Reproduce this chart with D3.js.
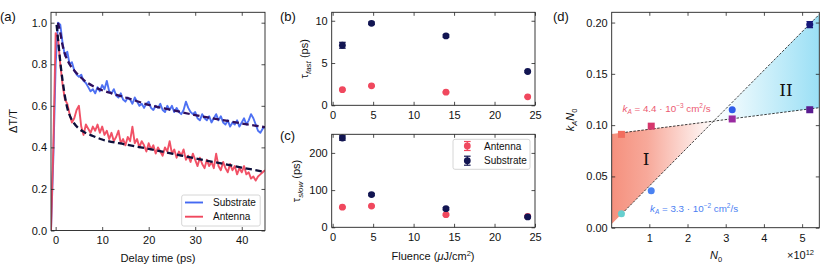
<!DOCTYPE html>
<html><head><meta charset="utf-8">
<script src="https://cdn.jsdelivr.net/npm/d3@7"></script>
<style>
body{margin:0;background:#fff;}
svg{display:block;font-family:"Liberation Sans",Arial,sans-serif;}
</style></head><body>
<svg id="c" width="831" height="277"></svg>
<script>
// ---------- Panel (a) data ----------
const timePs = [-1,-0.5,0,0.5,1,1.5,2,2.5,3,3.5,4,4.5,5,5.5,6,6.5,7,7.5,8,8.5,9,9.5,10,10.5,11,11.5,12,12.5,13,13.5,14,14.5,15,15.5,16,16.5,17,17.5,18,18.5,19,19.5,20,20.5,21,21.5,22,22.5,23,23.5,24,24.5,25,25.5,26,26.5,27,27.5,28,28.5,29,29.5,30,30.5,31,31.5,32,32.5,33,33.5,34,34.5,35,35.5,36,36.5,37,37.5,38,38.5,39,39.5,40,40.5,41,41.5,42,42.5,43,43.5,44,44.5,45];
const substrateSignal = [0.00,0.35,0.80,1.00,0.99,0.90,0.84,0.86,0.80,0.81,0.77,0.75,0.74,0.75,0.72,0.71,0.69,0.67,0.68,0.66,0.69,0.67,0.70,0.68,0.72,0.67,0.66,0.68,0.65,0.64,0.66,0.63,0.62,0.64,0.63,0.61,0.64,0.62,0.60,0.61,0.59,0.61,0.62,0.59,0.58,0.60,0.59,0.61,0.58,0.57,0.60,0.58,0.60,0.57,0.59,0.57,0.56,0.58,0.62,0.59,0.57,0.56,0.57,0.54,0.53,0.56,0.54,0.53,0.55,0.52,0.54,0.56,0.53,0.55,0.52,0.51,0.53,0.50,0.52,0.51,0.53,0.50,0.52,0.54,0.51,0.53,0.56,0.54,0.51,0.48,0.47,0.49,0.50];
const antennaSignal = [0.00,0.40,0.95,0.93,0.80,0.70,0.63,0.61,0.56,0.52,0.54,0.58,0.60,0.50,0.46,0.51,0.49,0.47,0.50,0.48,0.51,0.47,0.50,0.46,0.48,0.44,0.47,0.43,0.45,0.48,0.42,0.44,0.41,0.45,0.43,0.50,0.42,0.44,0.40,0.43,0.41,0.38,0.42,0.39,0.41,0.37,0.40,0.38,0.36,0.40,0.38,0.43,0.37,0.39,0.35,0.38,0.36,0.39,0.34,0.36,0.33,0.37,0.34,0.31,0.35,0.32,0.30,0.34,0.31,0.33,0.30,0.37,0.31,0.29,0.33,0.30,0.28,0.32,0.29,0.31,0.27,0.30,0.28,0.31,0.27,0.28,0.25,0.26,0.24,0.26,0.27,0.28,0.29];
const fitTimeSub = [0.5,1,1.5,2,3,4,5,6,8,10,12,15,20,25,30,35,40,45];
const fitSub = [1.00,0.95,0.89,0.85,0.80,0.77,0.745,0.725,0.695,0.675,0.66,0.64,0.605,0.58,0.555,0.535,0.515,0.497];
const fitTimeAnt = [0.2,0.6,1,1.5,2,2.5,3,4,5,6,8,10,15,20,25,30,35,40,45];
const fitAnt = [0.99,0.90,0.81,0.72,0.645,0.59,0.555,0.515,0.49,0.475,0.455,0.438,0.414,0.393,0.37,0.347,0.325,0.303,0.282];
const yTicksA = [0,0.2,0.4,0.6,0.8,1.0];
const xTicksA = [0,10,20,30,40];

// ---------- Panels (b),(c) data ----------
const fluence = [1.2, 4.8, 14.0, 24.1];
const tauFastAntenna = [1.85, 2.3, 1.55, 1.0];
const tauFastAntennaErr = [0.08, 0.08, 0.08, 0.06];
const tauFastSubstrate = [7.1, 9.7, 8.2, 4.0];
const tauFastSubstrateErr = [0.35, 0.15, 0.15, 0.1];
const tauSlowAntenna = [54, 57, 34, 29];
const tauSlowAntennaErr = [2, 2, 2, 2];
const tauSlowSubstrate = [240, 88, 50, 28];
const tauSlowSubstrateErr = [6, 3, 3, 2];
const fluenceTicks = [0,5,10,15,20,25];

// ---------- Panel (d) data ----------
const n0 = [0.27, 1.05, 3.17, 5.2];
const kaN0Circles = [0.0135, 0.036, 0.115, 0.198];
const kaN0CirclesErr = [0, 0, 0, 0.003];
const kaN0Squares = [0.091, 0.099, 0.106, 0.115];
const circleColors = ["#66cfcf","#4a82f2","#2e5cea","#17197a"];
const squareColors = ["#f26d5e","#d6366c","#9a2aa0","#5a1c90"];
const steepLine = [[0.28,0.0135],[5.45,0.208]];
const shallowLine = [[0.27,0.0925],[5.45,0.117]];
const yTicksD = [0,0.05,0.10,0.15,0.20];
const xTicksD = [1,2,3,4,5];

const BLUE = "#4469f2", RED = "#f0485e", NAVY = "#121552";
const FS = 11;

const svg = d3.select("#c");
const defs = svg.append("defs");

function frame(x, y, xt, yt, xf, yf) {
  const g = svg.append("g");
  const [x0,x1] = x.range(), [y0,y1] = y.range();
  const ts = 3.5;
  const ax = (gen, tr, ticks, fmt, lab) => {
    const a = gen.tickValues(ticks).tickSizeInner(-ts).tickSizeOuter(0).tickPadding(lab?4:0);
    if (fmt) a.tickFormat(fmt);
    if (!lab) a.tickFormat("");
    const s = g.append("g").attr("transform", tr).call(a);
    s.select(".domain").remove();
    s.selectAll("line").attr("stroke","#222").attr("stroke-width",0.8);
    s.selectAll("text").attr("font-size",FS).attr("fill","#111").attr("font-family",'"Liberation Sans",Arial,sans-serif');
    return s;
  };
  ax(d3.axisBottom(x), `translate(0,${y0})`, xt, xf, true).selectAll("text").attr("dy","0.9em");
  ax(d3.axisTop(x), `translate(0,${y1})`, xt, null, false);
  ax(d3.axisLeft(y), `translate(${x0},0)`, yt, yf, true);
  ax(d3.axisRight(y), `translate(${x1},0)`, yt, null, false);
  g.append("rect").attr("x",x0).attr("y",y1).attr("width",x1-x0).attr("height",y0-y1)
    .attr("fill","none").attr("stroke","#222").attr("stroke-width",0.9);
  return g;
}
function clip(id, x, y) {
  const [x0,x1] = x.range(), [y0,y1] = y.range();
  defs.append("clipPath").attr("id",id).append("rect").attr("x",x0).attr("y",y1).attr("width",x1-x0).attr("height",y0-y1);
  return svg.append("g").attr("clip-path",`url(#${id})`);
}
function txt(x,y,s,o={}) {
  const t = svg.append("text").attr("x",x).attr("y",y).attr("font-size",o.size||11)
    .attr("fill",o.fill||"#111").attr("text-anchor",o.anchor||"start");
  if (o.rot) t.attr("transform",`rotate(-90,${x},${y})`);
  if (o.family) t.attr("font-family",o.family);
  t.html(s);
  return t;
}

// ================= Panel (a) =================
const xA = d3.scaleLinear().domain([-1,45]).range([51,265]);
const yA = d3.scaleLinear().domain([0,1.05]).range([230.5,12.3]);
const gA = clip("ca", xA, yA);
const lineA = d3.line().x(d=>xA(d[0])).y(d=>yA(d[1]));
gA.append("path").datum(timePs.map((t,i)=>[t,substrateSignal[i]])).attr("d",lineA)
  .attr("fill","none").attr("stroke",BLUE).attr("stroke-width",1.9).attr("stroke-linejoin","round").attr("opacity",0.95);
gA.append("path").datum(timePs.map((t,i)=>[t,antennaSignal[i]])).attr("d",lineA)
  .attr("fill","none").attr("stroke",RED).attr("stroke-width",1.9).attr("stroke-linejoin","round").attr("opacity",0.95);
const lineFit = d3.line().x(d=>xA(d[0])).y(d=>yA(d[1])).curve(d3.curveMonotoneX);
gA.append("path").datum(fitTimeSub.map((t,i)=>[t,fitSub[i]])).attr("d",lineFit)
  .attr("fill","none").attr("stroke","#2e0e5e").attr("stroke-width",2.3).attr("stroke-dasharray","6.5,3.5");
gA.append("path").datum(fitTimeAnt.map((t,i)=>[t,fitAnt[i]])).attr("d",lineFit)
  .attr("fill","none").attr("stroke","#0d0f3a").attr("stroke-width",2.3).attr("stroke-dasharray","6.5,3.5");
frame(xA, yA, xTicksA, yTicksA, d3.format("d"), d3.format(".1f"));
// legend (a)
svg.append("rect").attr("x",181.7).attr("y",195).attr("width",78.5).attr("height",31).attr("rx",2)
  .attr("fill","#fff").attr("fill-opacity",0.85).attr("stroke","#ccc").attr("stroke-width",0.8);
[["Substrate",BLUE,202.5],["Antenna",RED,216.7]].forEach(([n,c,yy])=>{
  svg.append("line").attr("x1",185).attr("x2",203).attr("y1",yy).attr("y2",yy).attr("stroke",c).attr("stroke-width",1.9);
  txt(213, yy+3.6, n, {size:10});
});
txt(158, 262, "Delay time (ps)", {anchor:"middle", size:11.2});
txt(17, 121, "ΔT/T", {anchor:"middle", size:11, rot:true});
txt(0, 21, "(a)", {size:13});

// ================= Panel (b) =================
const xB = d3.scaleLinear().domain([-0.12,25]).range([331.7,535]);
const yB = d3.scaleLinear().domain([0,11]).range([105.3,12.3]);
function errPoints(g, x, y, xs, ys, es, color, r) {
  xs.forEach((xv,i)=>{
    const cx = x(xv), cy = y(ys[i]);
    const e = es[i];
    if (e>0) {
      const ya = y(ys[i]+e), yb = y(ys[i]-e);
      g.append("line").attr("x1",cx).attr("x2",cx).attr("y1",ya).attr("y2",yb).attr("stroke",color).attr("stroke-width",1.2);
      [ya,yb].forEach(v=>g.append("line").attr("x1",cx-3.3).attr("x2",cx+3.3).attr("y1",v).attr("y2",v).attr("stroke",color).attr("stroke-width",1.2));
    }
    g.append("circle").attr("cx",cx).attr("cy",cy).attr("r",r).attr("fill",color);
  });
}
const gB = svg.append("g");
errPoints(gB, xB, yB, fluence, tauFastAntenna, tauFastAntennaErr, RED, 3.4);
errPoints(gB, xB, yB, fluence, tauFastSubstrate, tauFastSubstrateErr, NAVY, 3.4);
frame(xB, yB, fluenceTicks, [0,5,10], d3.format("d"), d3.format("d"));
txt(308.5, 58.8, "τ<tspan font-style='italic' font-size='8' dy='2.5'>fast</tspan><tspan dy='-2.5'> (ps)</tspan>", {anchor:"middle", size:11, rot:true});
txt(280, 21, "(b)", {size:13});

// ================= Panel (c) =================
const yC = d3.scaleLinear().domain([0,250]).range([227.3,134.3]);
const gC = svg.append("g");
errPoints(gC, xB, yC, fluence, tauSlowAntenna, tauSlowAntennaErr, RED, 3.4);
errPoints(gC, xB, yC, fluence, tauSlowSubstrate, tauSlowSubstrateErr, NAVY, 3.4);
frame(xB, yC, fluenceTicks, [0,100,200], d3.format("d"), d3.format("d"));
svg.append("rect").attr("x",453).attr("y",139.3).attr("width",77).attr("height",30).attr("rx",2)
  .attr("fill","#fff").attr("fill-opacity",0.85).attr("stroke","#ccc").attr("stroke-width",0.8);
[["Antenna",RED,146],["Substrate",NAVY,160.7]].forEach(([n,c,yy])=>{
  svg.append("line").attr("x1",467.3).attr("x2",467.3).attr("y1",yy-4.5).attr("y2",yy+4.5).attr("stroke",c).attr("stroke-width",1.2);
  [yy-4.5,yy+4.5].forEach(v=>svg.append("line").attr("x1",464).attr("x2",470.6).attr("y1",v).attr("y2",v).attr("stroke",c).attr("stroke-width",1.2));
  svg.append("circle").attr("cx",467.3).attr("cy",yy).attr("r",3.4).attr("fill",c);
  txt(484, yy+3.6, n, {size:10});
});
txt(300, 181, "τ<tspan font-style='italic' font-size='8' dy='2.5'>slow</tspan><tspan dy='-2.5'> (ps)</tspan>", {anchor:"middle", size:11, rot:true});
txt(433, 260, "Fluence (<tspan font-style='italic'>μ</tspan>J/cm<tspan font-size='7.5' dy='-4'>2</tspan><tspan dy='4'>)</tspan>", {anchor:"middle", size:11});
txt(280, 140, "(c)", {size:13});

// ================= Panel (d) =================
const xD = d3.scaleLinear().domain([0.015,5.45]).range([611.7,819.3]);
const yD = d3.scaleLinear().domain([0,0.21]).range([227.7,12.3]);
const gD = clip("cd", xD, yD);
const slope = l => (l[1][1]-l[0][1])/(l[1][0]-l[0][0]);
const at = (l,xv) => l[0][1] + slope(l)*(xv-l[0][0]);
const xi = (at(shallowLine,0)-at(steepLine,0))/(slope(steepLine)-slope(shallowLine));
const yi = at(steepLine, xi);
const xL = xD.domain()[0], xR = xD.domain()[1];
const g1 = defs.append("linearGradient").attr("id","gI").attr("gradientUnits","userSpaceOnUse")
  .attr("x1",xD(xL)).attr("x2",xD(xi)).attr("y1",0).attr("y2",0);
g1.append("stop").attr("offset",0).attr("stop-color","#f4846f").attr("stop-opacity",0.9);
g1.append("stop").attr("offset",0.35).attr("stop-color","#f4846f").attr("stop-opacity",0.7);
g1.append("stop").attr("offset",1).attr("stop-color","#f4846f").attr("stop-opacity",0);
const g2 = defs.append("linearGradient").attr("id","gII").attr("gradientUnits","userSpaceOnUse")
  .attr("x1",xD(xi)).attr("x2",xD(xR)).attr("y1",0).attr("y2",0);
g2.append("stop").attr("offset",0).attr("stop-color","#8fdcf4").attr("stop-opacity",0);
g2.append("stop").attr("offset",1).attr("stop-color","#8fdcf4").attr("stop-opacity",0.9);
const poly = d3.line().x(d=>xD(d[0])).y(d=>yD(d[1]));
gD.append("path").attr("d", poly([[xL,at(shallowLine,xL)],[xi,yi],[xL,at(steepLine,xL)],[xL,0]])+"Z").attr("fill","url(#gI)");
gD.append("path").attr("d", poly([[xi,yi],[xR,at(steepLine,xR)],[xR,at(shallowLine,xR)]])+"Z").attr("fill","url(#gII)");
[steepLine, shallowLine].forEach(l=>{
  gD.append("path").attr("d", poly(l)).attr("fill","none").attr("stroke","#111").attr("stroke-width",0.8).attr("stroke-dasharray","2.5,1.5");
});
n0.forEach((v,i)=>{
  gD.append("rect").attr("x",xD(v)-3.5).attr("y",yD(kaN0Squares[i])-3.5).attr("width",7).attr("height",7).attr("fill",squareColors[i]);
});
n0.forEach((v,i)=>{
  errPoints(gD, xD, yD, [v], [kaN0Circles[i]], [kaN0CirclesErr[i]], circleColors[i], 3.5);
});
frame(xD, yD, xTicksD, yTicksD, d3.format("d"), d3.format(".2f"));
txt(646, 165, "I", {size:17, family:'"DejaVu Serif","Liberation Serif",serif', anchor:"middle"});
txt(786, 96, "II", {size:17, family:'"DejaVu Serif","Liberation Serif",serif', anchor:"middle"});
txt(622.5, 112, "<tspan font-style='italic'>k</tspan><tspan font-style='italic' font-size='6.5' dy='2'>A</tspan><tspan dy='-2'> = 4.4 · 10</tspan><tspan font-size='6.5' dy='-4'>−3</tspan><tspan dy='4'> cm</tspan><tspan font-size='6.5' dy='-4'>2</tspan><tspan dy='4'>/s</tspan>", {size:9.8, fill:"#ec5a72"});
txt(650, 212, "<tspan font-style='italic'>k</tspan><tspan font-style='italic' font-size='6.5' dy='2'>A</tspan><tspan dy='-2'> = 3.3 · 10</tspan><tspan font-size='6.5' dy='-4'>−2</tspan><tspan dy='4'> cm</tspan><tspan font-size='6.5' dy='-4'>2</tspan><tspan dy='4'>/s</tspan>", {size:9.8, fill:"#4b80f2"});
txt(574, 120, "<tspan font-style='italic'>k</tspan><tspan font-style='italic' font-size='7.5' dy='2.5'>A</tspan><tspan font-style='italic' dy='-2.5'>N</tspan><tspan font-size='7.5' dy='2.5'>0</tspan>", {anchor:"middle", size:11, rot:true});
txt(716, 259, "<tspan font-style='italic'>N</tspan><tspan font-size='7.5' dy='2.5'>0</tspan>", {anchor:"middle", size:11});
txt(787, 259, "×10<tspan font-size='7.5' dy='-4'>12</tspan>", {size:11});
txt(553, 21, "(d)", {size:13});
</script></body></html>
